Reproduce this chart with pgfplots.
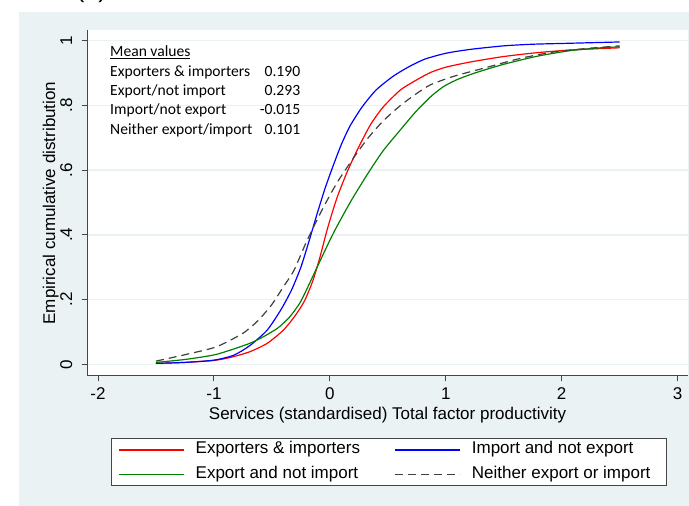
\documentclass[border=0pt]{standalone}
\usepackage{pgfplots}
\pgfplotsset{compat=1.18}
\usepackage{fontspec}
\setmainfont{Liberation Sans}
\newfontfamily\calibri{Carlito}
\definecolor{bgc}{RGB}{234,242,243}
\definecolor{gridc}{RGB}{234,242,243}
\definecolor{axc}{RGB}{70,70,70}
\definecolor{sred}{RGB}{255,0,0}
\definecolor{sblue}{RGB}{0,0,255}
\definecolor{sgreen}{RGB}{0,128,0}
\definecolor{sgray}{RGB}{64,64,64}
\newcommand{\fs}{\fontsize{17bp}{20bp}\selectfont}
\begin{document}
\begin{tikzpicture}[x=1bp,y=1bp]
\useasboundingbox (0,0) rectangle (689,506);
\fill[white] (0,0) rectangle (689,506);
\fill[bgc] (19,0) rectangle (689,494);
\node[anchor=base west, inner sep=0pt, font=\fontsize{25bp}{30bp}\selectfont] at (76,508) {(b)};
\begin{axis}[
  at={(87bp,130bp)}, anchor=south west,
  scale only axis, width=601bp, height=346bp,
  xmin=-2.095, xmax=3.09, ymin=-0.036, ymax=1.033,
  axis x line*=bottom, axis y line*=left,
  axis line style={axc, line width=1bp},
  axis background/.style={fill=white},
  xtick={-2,-1,0,1,2,3}, xticklabels={-2,-1,0,1,2,3},
  ytick={0,0.2,0.4,0.6,0.8,1}, yticklabels={0,.2,.4,.6,.8,1},
  tick align=outside, major tick length=5.5bp,
  tick style={axc, line width=1bp},
  ymajorgrids, grid style={gridc, line width=1.3bp},
  every tick label/.append style={font=\fs, text=black},
  xticklabel style={anchor=base, inner sep=0pt, yshift=-18.5bp},
  yticklabel style={rotate=90, anchor=base, inner sep=0pt, yshift=9.5bp},
  xlabel={Services (standardised) Total factor productivity},
  ylabel={Empirical cumulative distribution},
  xlabel style={font=\fs, at={(axis description cs:0.5,-0.1243)}, anchor=base, inner sep=0pt},
  ylabel style={font=\fs, at={(axis description cs:-0.0532,0.5)}, anchor=base, inner sep=0pt},
  legend columns=2,
  legend cell align=left,
  legend image code/.code={\draw[#1] (0bp,0bp) -- (65bp,0bp);},
  legend style={at={(axis description cs:0.0399,-0.1806)}, anchor=north west,
    draw=axc, line width=1bp, fill=white, font=\fs,
    inner xsep=7bp, inner ysep=3bp, row sep=8.4bp,
    nodes={inner sep=0pt, text height=12bp, text depth=4bp},
    /tikz/every odd column/.append style={column sep=11bp},
    /tikz/every even column/.append style={column sep=34.6bp}},
]
\addplot[sred, line width=1.2bp, smooth, tension=0.4] coordinates {
(-1.5,0.003) (-1.25,0.006) (-1.0,0.012) (-0.85,0.022) (-0.69,0.039) (-0.54,0.065)
(-0.40,0.106) (-0.30,0.150) (-0.22,0.195) (-0.15,0.255) (-0.09,0.325) (-0.02,0.42)
(0.06,0.513) (0.15,0.595) (0.24,0.665) (0.35,0.74) (0.46,0.795) (0.61,0.848)
(0.75,0.879) (0.87,0.902) (1.0,0.918) (1.21,0.934) (1.5,0.951) (1.79,0.963)
(2.07,0.971) (2.3,0.975) (2.5,0.978)};
\addlegendentry{Exporters \& importers}
\addplot[sblue, line width=1.2bp, smooth, tension=0.4] coordinates {
(-1.5,0.003) (-1.25,0.006) (-1.0,0.013) (-0.83,0.028) (-0.69,0.058) (-0.54,0.106)
(-0.42,0.17) (-0.33,0.23) (-0.25,0.30) (-0.18,0.38) (-0.11,0.465) (-0.04,0.545)
(0.03,0.615) (0.10,0.68) (0.175,0.737) (0.28,0.796) (0.40,0.848) (0.55,0.891) (0.69,0.921)
(0.82,0.943) (1.0,0.961) (1.21,0.973) (1.5,0.984) (1.75,0.989)
(2.07,0.992) (2.5,0.996)};
\addlegendentry{Import and not export}
\addplot[sgreen, line width=1.2bp, smooth, tension=0.4] coordinates {
(-1.5,0.006) (-1.25,0.015) (-1.0,0.029) (-0.85,0.045) (-0.69,0.065) (-0.57,0.086)
(-0.45,0.112) (-0.35,0.145) (-0.25,0.195) (-0.11,0.30) (0.03,0.405) (0.175,0.50) (0.32,0.585)
(0.46,0.66) (0.61,0.725) (0.74,0.78) (0.87,0.827) (0.98,0.858)
(1.1,0.88) (1.25,0.9) (1.5,0.927) (1.79,0.952) (2.07,0.969) (2.3,0.977) (2.5,0.981)};
\addlegendentry{Export and not import}
\addplot[sgray, line width=1.2bp, dash pattern=on 8bp off 5bp, smooth, tension=0.4] coordinates {
(-1.5,0.010) (-1.26,0.029) (-0.98,0.054) (-0.75,0.096) (-0.62,0.135) (-0.5,0.185) (-0.40,0.24)
(-0.31,0.29) (-0.2,0.38) (-0.06,0.482) (0.06,0.56) (0.18,0.625)
(0.32,0.695) (0.46,0.752) (0.61,0.80) (0.75,0.837) (0.87,0.864) (1.07,0.89)
(1.36,0.918) (1.64,0.945) (1.93,0.965) (2.22,0.976) (2.5,0.984)};
\addlegendentry{Neither export or import\hspace*{9bp}}
\end{axis}
\node[anchor=base west, inner sep=0pt, font=\calibri\fontsize{15.6bp}{19.3bp}\selectfont] at (110,449) {%
\begin{tabular}[t]{@{}l@{}}
\underline{Mean values}\\
\makebox[190bp]{Exporters \& importers\hfill 0.190}\\
\makebox[190bp]{Export/not import\hfill 0.293}\\
\makebox[190bp]{Import/not export\hfill -0.015}\\
\makebox[190bp]{Neither export/import\hfill 0.101}
\end{tabular}};
\end{tikzpicture}
\end{document}
